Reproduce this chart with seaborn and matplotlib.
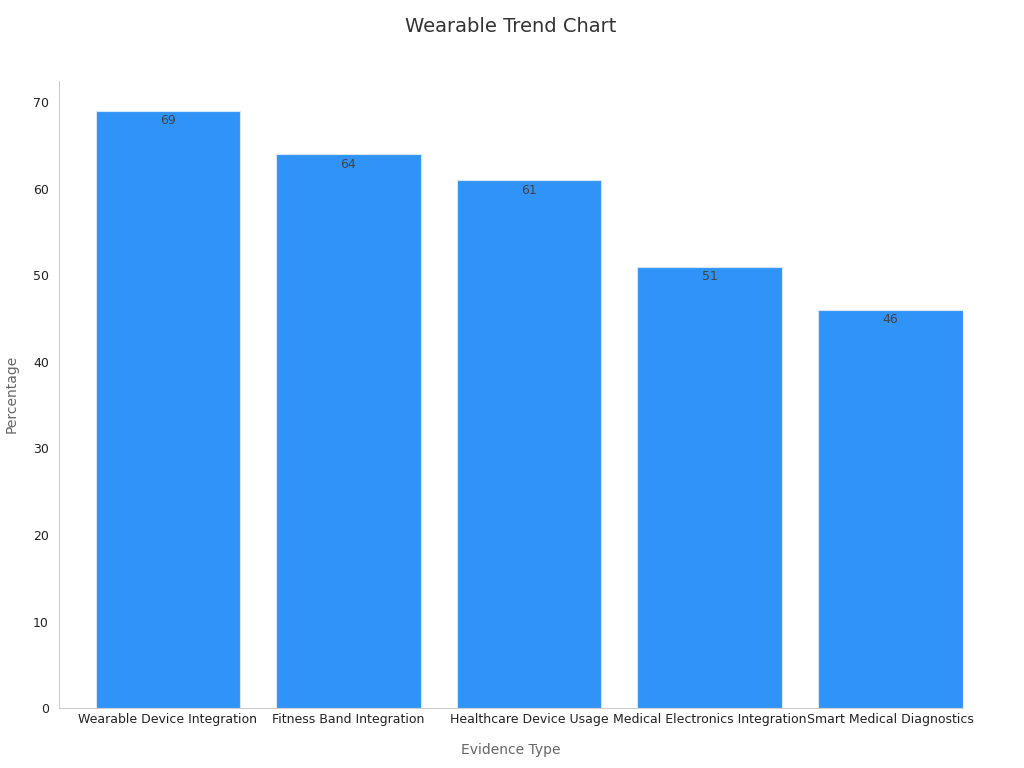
import matplotlib
matplotlib.use('Agg')
import matplotlib.pyplot as plt
import seaborn as sns
import pandas as pd

# chart data
categories = ['Wearable Device Integration', 'Fitness Band Integration',
              'Healthcare Device Usage', 'Medical Electronics Integration',
              'Smart Medical Diagnostics']
values = [69, 64, 61, 51, 46]

df = pd.DataFrame({'Evidence Type': categories, 'Percentage': values})

sns.set_style('white')
plt.rcParams['font.family'] = ['DejaVu Sans']

fig, ax = plt.subplots(figsize=(10.24, 7.68), dpi=100)
fig.subplots_adjust(left=0.058, right=0.94, top=0.895, bottom=0.078)

sns.barplot(data=df, x='Evidence Type', y='Percentage', color='#2F93F8',
            saturation=1, width=0.8, edgecolor='#d6e6f5', linewidth=0.8, ax=ax)

# value labels just inside the top of each bar
for i, v in enumerate(values):
    ax.text(i, v - 0.4, str(v), ha='center', va='top', fontsize=9, color='#444444')

ax.set_ylim(0, 72.5)
ax.set_xlim(-0.6, 4.4)
ax.set_yticks(range(0, 71, 10))
ax.tick_params(axis='both', labelsize=9, colors='#222222', length=4)
ax.tick_params(axis='x', length=0)
ax.set_xlabel('Evidence Type', fontsize=10, color='#666666', labelpad=12)
ax.set_ylabel('Percentage', fontsize=10, color='#666666', labelpad=10)
ax.set_title('Wearable Trend Chart', fontsize=14, color='#333333', pad=35)

for s in ['top', 'right']:
    ax.spines[s].set_visible(False)
for s in ['left', 'bottom']:
    ax.spines[s].set_color('#cccccc')

fig.savefig('out.png', dpi=100)
